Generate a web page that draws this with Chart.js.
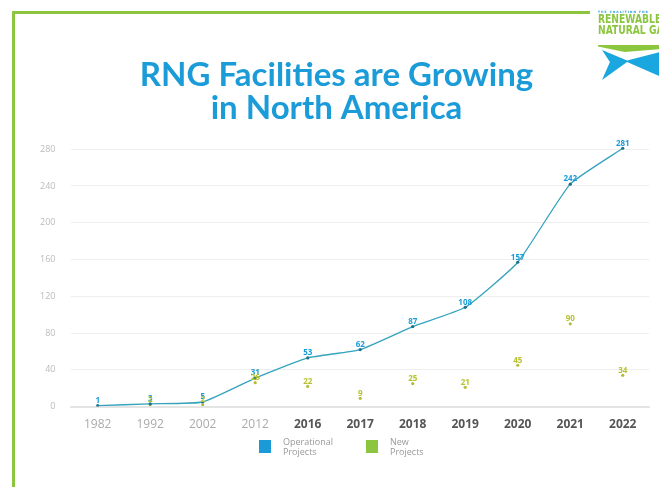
<!DOCTYPE html>
<html>
<head>
<meta charset="utf-8">
<script src="https://cdn.jsdelivr.net/npm/chart.js@4"></script>
<style>
  body { margin:0; background:#fff; }
  #wrap { position:relative; width:659px; height:487px; overflow:hidden; background:#fff; }
  #frameTop { position:absolute; left:12px; top:11px; width:578px; height:3px; background:#8cc63f; }
  #frameLeft { position:absolute; left:12px; top:11px; width:3px; height:480px; background:#8cc63f; }
  #logo { position:absolute; left:598px; top:10px; width:70px; height:70px; overflow:hidden; }
  #logo .small { font:bold 3px "DejaVu Sans"; color:#1b9cd8; letter-spacing:1px; white-space:nowrap; }
  #logo .big { font:bold 12px "Liberation Sans Narrow", "DejaVu Sans Condensed"; color:#8cc63f; line-height:11px; white-space:nowrap; transform:scaleX(0.85); transform-origin:left; }
  #logo .bow { position:absolute; left:4px; top:40px; width:66px; height:30px; background:#1aa6de;
    clip-path: polygon(0 0, 38% 35%, 100% 0, 100% 100%, 38% 40%, 0 100%, 12% 40%); }
  #logo .band { position:absolute; left:0; top:35px; width:70px; height:7px; background:#8cc63f;
    clip-path: polygon(0 0, 100% 0, 100% 50%, 38% 100%, 0 20%); }
  canvas { position:absolute; left:0; top:0; }
  #legend { position:absolute; top:437px; left:259px; font:9px "Open Sans"; color:#999; line-height:10px; }
  #legend .item { position:absolute; white-space:nowrap; }
  #legend .box { position:absolute; width:12px; height:13px; top:3px; }
  #legend .txt { position:absolute; left:24px; top:0; }
</style>
</head>
<body>
<div id="wrap">
  <canvas id="rngChart" width="659" height="487"></canvas>
  <div id="frameTop"></div>
  <div id="frameLeft"></div>
  <div id="logo">
    <div class="small">THE COALITION FOR</div>
    <div class="big">RENEWABLE<br>NATURAL GAS</div>
    <div class="band"></div>
    <div class="bow"></div>
  </div>
  <div id="legend">
    <div class="item" style="left:0"><div class="box" style="background:#1a9bd7"></div><div class="txt">Operational<br>Projects</div></div>
    <div class="item" style="left:107px"><div class="box" style="background:#8cc63f"></div><div class="txt">New<br>Projects</div></div>
  </div>
</div>
<script>
const years = ["1982","1992","2002","2012","2016","2017","2018","2019","2020","2021","2022"]
const operational = [1,3,5,31,53,62,87,108,157,242,281]
const newProjects = [null,2,2,26,22,9,25,21,45,90,34]
const yTicks = [0,40,80,120,160,200,240,280]

// small numbers above each point
const pointLabels = {
  id: 'pointLabels',
  afterDatasetsDraw(chart) {
    const ctx = chart.ctx
    chart.data.datasets.forEach((ds, i) => {
      const meta = chart.getDatasetMeta(i)
      ctx.save()
      ctx.font = 'bold 8px "Open Sans"'
      ctx.fillStyle = ds.labelColor
      ctx.textAlign = 'center'
      ctx.textBaseline = 'bottom'
      meta.data.forEach((pt, j) => {
        const v = ds.data[j]
        if (v == null) return
        ctx.fillText(v, pt.x, pt.y - 1)
      })
      ctx.restore()
    })
  }
}

window.addEventListener('load', chart)

function chart(){
  new Chart(document.getElementById("rngChart"), {
    type: 'line',
    data: {
      labels: years,
      datasets: [
        {
          label: "Operational Projects",
          data: operational,
          borderColor: "#35a3bd",
          borderWidth: 1.3,
          tension: 0.15,
          pointRadius: 1.6,
          pointBackgroundColor: "#1d6f87",
          pointBorderWidth: 0,
          labelColor: "#1a9bd7"
        },
        {
          label: "New Projects",
          data: newProjects,
          showLine: false,
          pointRadius: 1.6,
          pointBackgroundColor: "#b3bd3a",
          pointBorderWidth: 0,
          labelColor: "#b8c230"
        }
      ]
    },
    options: {
      responsive: false,
      animation: false,
      layout: { padding: { left: 24, right: 10, bottom: 52 } },
      plugins: {
        legend: { display: false },
        tooltip: { enabled: false },
        title: {
          display: true,
          text: ["RNG Facilities are Growing", "in North America"],
          color: "#1b9cd8",
          font: { family: "Lato", size: 33, weight: 'bold', lineHeight: 1.0 },
          padding: { top: 59, bottom: 15 }
        }
      },
      scales: {
        x: {
          offset: true,
          grid: { display: false },
          border: { display: true, color: "#e4e4e4", width: 2 },
          ticks: {
            padding: 3,
            color: ctx => ctx.index >= 4 ? "#555" : "#aaa",
            font: ctx => ({ family: "Open Sans", size: 12, weight: ctx.index >= 4 ? 'bold' : 'normal' })
          }
        },
        y: {
          min: 0,
          max: 290,
          afterBuildTicks: axis => { axis.ticks = yTicks.map(v => ({ value: v })) },
          grid: { color: "#eeeeee", drawTicks: false },
          border: { display: false },
          ticks: { padding: 16, color: "#bbb", font: { family: "Open Sans", size: 9 } }
        }
      }
    },
    plugins: [pointLabels]
  })
}
</script>
</body>
</html>
